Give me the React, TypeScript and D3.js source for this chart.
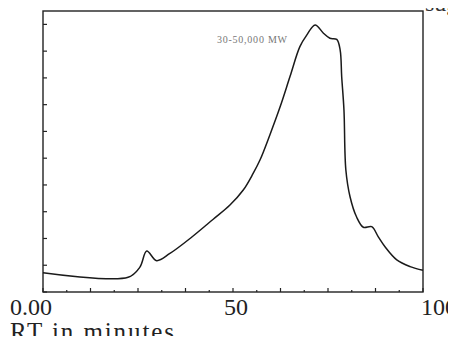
import React, { useEffect, useRef } from 'react';
import * as d3 from 'd3';

// retention time (min) and detector response
const rtMinutes = [0, 22.4, 25.5, 27.3, 29.9, 33.4, 38.7, 44.8, 49.2, 52.7, 55.3, 57.1, 59.7, 62.4, 65, 67.6, 69.4, 71.6, 73.8, 75.5, 77.3, 78.2, 78.6, 79.2, 79.7, 80.8, 82.5, 84.3, 86.5, 88.2, 90, 93.1, 96.6, 100];
const response = [0.72, 0.55, 0.93, 1.53, 1.17, 1.44, 2.0, 2.72, 3.25, 3.81, 4.43, 4.93, 5.87, 6.92, 8.05, 9.17, 9.6, 9.98, 9.67, 9.48, 9.44, 9.04, 8.05, 6.8, 4.56, 3.56, 2.81, 2.42, 2.44, 2.07, 1.69, 1.2, 0.95, 0.81];

const xTickLabels = ['0.00', '50', '100'];
const xMinorTicks = d3.range(0, 100.01, 6.25);
const yTicks = d3.range(0, 10.01, 1);
const peakLabel = '30-50,000 MW';

const W = 456;
const H = 344;
const left = 43;
const right = 423;
const top = 11;
const bottom = 292;

export default function App() {
  const svgRef = useRef<SVGSVGElement>(null);

  useEffect(() => {
    if (!svgRef.current) return;
    const svg = d3.select(svgRef.current);
    svg.selectAll('*').remove();

    const x = d3.scaleLinear().domain([0, 100]).range([left, right]);
    const y = d3.scaleLinear().domain([0, 10.5]).range([bottom, top]);

    svg.append('rect').attr('width', W).attr('height', H).attr('fill', '#fff');

    // frame
    svg
      .append('rect')
      .attr('x', left)
      .attr('y', top)
      .attr('width', right - left)
      .attr('height', bottom - top)
      .attr('fill', 'none')
      .attr('stroke', '#222')
      .attr('stroke-width', 1.4);

    // x ticks, pointing up into the plot
    svg
      .append('g')
      .selectAll('line')
      .data(xMinorTicks)
      .enter()
      .append('line')
      .attr('x1', (d) => x(d))
      .attr('x2', (d) => x(d))
      .attr('y1', bottom)
      .attr('y2', (d, i) => bottom - (i % 2 === 0 ? 4 : 2))
      .attr('stroke', '#222')
      .attr('stroke-width', 1.2);

    // y ticks, pointing right
    svg
      .append('g')
      .selectAll('line')
      .data(yTicks)
      .enter()
      .append('line')
      .attr('x1', left)
      .attr('x2', left + 4)
      .attr('y1', (d) => y(d))
      .attr('y2', (d) => y(d))
      .attr('stroke', '#222')
      .attr('stroke-width', 1.2);

    const pts = rtMinutes.map((t, i) => [t, response[i]] as [number, number]);
    const line = d3
      .line<[number, number]>()
      .x((d) => x(d[0]))
      .y((d) => y(d[1]))
      .curve(d3.curveCatmullRom.alpha(0.5));

    svg
      .append('path')
      .datum(pts)
      .attr('d', line)
      .attr('fill', 'none')
      .attr('stroke', '#1a1a1a')
      .attr('stroke-width', 1.5);

    const font = 'Liberation Serif, Times New Roman, Tinos, DejaVu Serif, serif';

    // tick labels
    const labelPos = [
      { t: 0, anchor: 'start', dx: -33 },
      { t: 50, anchor: 'middle', dx: 3 },
      { t: 100, anchor: 'start', dx: -2 },
    ];
    xTickLabels.forEach((lab, i) => {
      svg
        .append('text')
        .attr('x', x(labelPos[i].t) + labelPos[i].dx)
        .attr('y', 315)
        .attr('text-anchor', labelPos[i].anchor)
        .style('font-family', font)
        .attr('font-size', 24)
        .attr('fill', '#222')
        .text(lab);
    });

    svg
      .append('text')
      .attr('x', 10)
      .attr('y', 340)
      .style('font-family', font)
      .attr('font-size', 25)
      .attr('textLength', 164)
      .attr('fill', '#222')
      .text('RT in minutes');

    svg
      .append('text')
      .attr('x', 217)
      .attr('y', 43)
      .style('font-family', font)
      .attr('font-size', 10)
      .attr('textLength', 70)
      .attr('fill', '#777')
      .text(peakLabel);

    // clipped caption at top right
    svg
      .append('text')
      .attr('x', 425)
      .attr('y', 11)
      .style('font-family', font)
      .attr('font-size', 24)
      .attr('fill', '#333')
      .text('sug');
  }, []);

  return (
    <div style={{ margin: -8 }}>
      <svg ref={svgRef} width={W} height={H} style={{ display: 'block' }} />
    </div>
  );
}
